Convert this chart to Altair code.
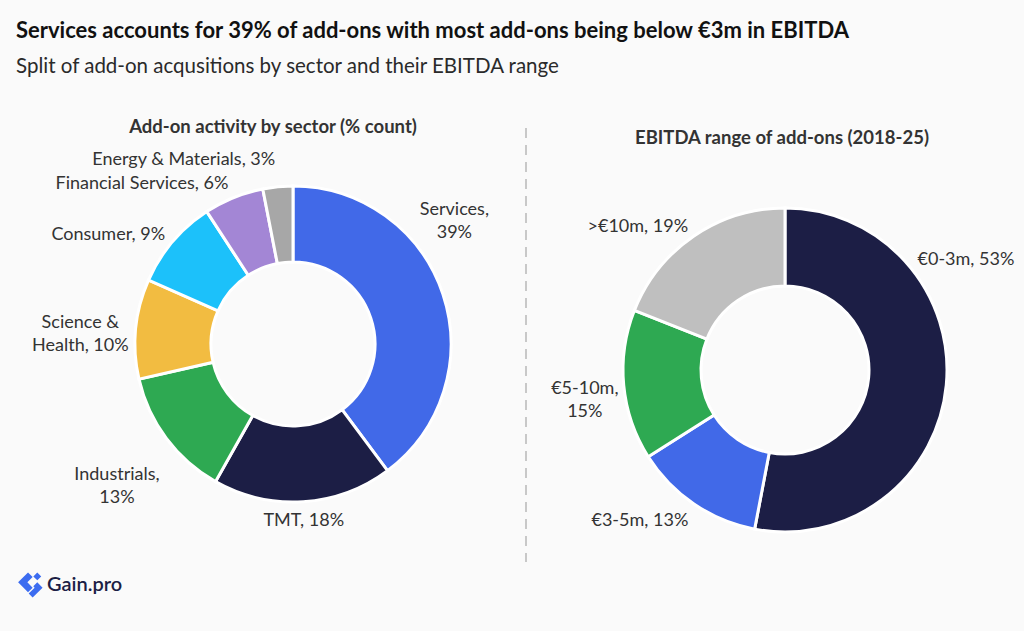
import math
import altair as alt
import pandas as pd

# ---------------- data ----------------
sectors = ["Services", "TMT", "Industrials", "Science & Health", "Consumer",
           "Financial Services", "Energy & Materials"]
sector_share = [39, 18, 13, 10, 9, 6, 3]
sector_labels = ["Services,\n39%", "TMT, 18%", "Industrials,\n13%", "Science &\nHealth, 10%",
                 "Consumer, 9%", "Financial Services, 6%", "Energy & Materials, 3%"]
sector_colors = ["#4169E8", "#1C1E45", "#2EA952", "#F2BC41", "#1CC1FA", "#A386D5", "#A7A7A7"]

ranges = ["€0-3m", "€3-5m", "€5-10m", ">€10m"]
range_share = [53, 13, 15, 19]
range_labels = ["€0-3m, 53%", "€3-5m, 13%", "€5-10m,\n15%", ">€10m, 19%"]
range_colors = ["#1C1E45", "#4169E8", "#2EA952", "#BFBFBF"]

title = "Services accounts for 39% of add-ons with most add-ons being below €3m in EBITDA"
subtitle = "Split of add-on acqusitions by sector and their EBITDA range"
left_title = "Add-on activity by sector (% count)"
right_title = "EBITDA range of add-ons (2018-25)"
brand = "Gain.pro"

FONT = "Lato"
BG = "#FAFAFA"
TXT = "#333333"
LABEL_SIZE = 18
LINE_H = 23
CHAR_W = 8.3


def frame(cats, vals, labels):
    return pd.DataFrame({
        "cat": cats, "v": vals, "label": labels, "i": list(range(len(cats))),
        "nl": [len(t.split("\n")) for t in labels],
        "ml": [max(len(p) for p in t.split("\n")) for t in labels],
    })


sector_df = frame(sectors, sector_share, sector_labels)
range_df = frame(ranges, range_share, range_labels)

color_scale = alt.Scale(domain=sectors + ranges, range=sector_colors + range_colors)
theta_scale = alt.Scale(domain=[0, 1], range=[0, 2 * math.pi])

LABEL_GAP = 8
TOP_BOOST = 19
CLAMP = 0.14


def donut(df, cx, cy, r_out, r_in):
    base = (
        alt.Chart(df)
        .transform_joinaggregate(total="sum(v)")
        .transform_window(cum="sum(v)", sort=[alt.SortField("i")], frame=[None, 0])
        .transform_calculate(t0="(datum.cum - datum.v) / datum.total")
        .transform_calculate(t1="datum.cum / datum.total")
        .transform_calculate(mid="(datum.t0 + datum.t1) / 2")
        .transform_calculate(tl=f"datum.mid < 0.35 ? min(datum.mid, {CLAMP}) : datum.mid")
        .transform_calculate(s="sin(2 * PI * datum.tl)")
        .transform_calculate(c="cos(2 * PI * datum.tl)")
        .transform_calculate(
            rl=(f"datum.nl > 1 ? {r_out + LABEL_GAP} + {CHAR_W / 2} * datum.ml * abs(datum.s)"
                f" + {LINE_H / 2} * datum.nl * abs(datum.c)"
                f" : {r_out + LABEL_GAP + 2} + {TOP_BOOST} * pow(max(datum.c, 0), 20)"))
        .transform_calculate(
            al=("datum.nl > 1 ? 'center' : "
                "(datum.s > 0.08 ? 'left' : (datum.s < -0.08 ? 'right' : 'center'))"))
        .transform_calculate(
            bl=("datum.nl > 1 ? 'middle' : (datum.al == 'center' ? "
                "(datum.c > 0 ? 'bottom' : 'top') : (datum.c < -0.3 ? 'top' : 'middle'))"))
    )
    arc = base.mark_arc(radius=r_out, radius2=r_in, stroke="white", strokeWidth=3).encode(
        theta=alt.Theta("t0:Q", scale=theta_scale),
        theta2="t1:Q",
        color=alt.Color("cat:N", scale=color_scale, legend=None),
        x=alt.value(cx),
        y=alt.value(cy),
    )
    layers = [arc]
    for al in ["left", "right", "center"]:
        for bl in ["middle", "top", "bottom"]:
            layers.append(
                base.transform_filter(f"datum.al == '{al}' && datum.bl == '{bl}'")
                .mark_text(align=al, baseline=bl, font=FONT, fontSize=LABEL_SIZE, color=TXT,
                           lineBreak="\n", lineHeight=LINE_H)
                .encode(
                    theta=alt.Theta("tl:Q", scale=theta_scale),
                    radius=alt.Radius("rl:Q", scale=None),
                    text="label:N",
                    x=alt.value(cx),
                    y=alt.value(cy),
                )
            )
    return layers


def label(text, x, y, size, weight="normal", color=TXT, align="left"):
    return alt.Chart(pd.DataFrame({"t": [text]})).mark_text(
        align=align, baseline="middle", font=FONT, fontSize=size, fontWeight=weight, color=color
    ).encode(text="t:N", x=alt.value(x), y=alt.value(y))


divider = alt.Chart(pd.DataFrame({"d": [0]})).mark_rule(
    color="#C8C8C8", strokeWidth=2, strokeDash=[10, 7]
).encode(x=alt.value(526), y=alt.value(128), y2=alt.value(562))

logo_path = ("M -0.15 -0.95 L 0.2 -0.6 L -0.2 -0.2 L 0.2 0.2 L -0.15 0.55 L -0.9 -0.2 Z "
             "M 0.55 -0.95 L 0.85 -0.65 L 0.55 -0.35 L 0.25 -0.65 Z "
             "M 0.55 -0.2 L 0.95 0.2 L 0.2 0.95 L -0.1 0.65 L 0.35 0.2 L 0.25 0.1 Z")
logo = alt.Chart(pd.DataFrame({"d": [0]})).mark_point(
    shape=logo_path, filled=True, color="#3C6CF0", opacity=1, size=700, strokeWidth=0
).encode(x=alt.value(30), y=alt.value(585))

layers = (
    [label(title, 16, 31, 22, "bold", "#111111"),
     label(subtitle, 16, 67, 20.5, "normal", "#2A2A2A"),
     label(left_title, 273, 127, 18.5, "bold", TXT, "center"),
     label(right_title, 782, 138, 18.5, "bold", TXT, "center"),
     divider]
    + donut(sector_df, 293, 344, 158, 82)
    + donut(range_df, 785, 370, 162, 84)
    + [logo, label(brand, 47, 585, 20, 600, "#1C1E45")]
)

chart = alt.layer(*layers).properties(
    width=1024, height=631, background=BG, padding=0, autosize=alt.AutoSizeParams(type="none")
).configure_view(stroke=None)

chart.save("out.html", embed_options={"renderer": "svg", "actions": False})
